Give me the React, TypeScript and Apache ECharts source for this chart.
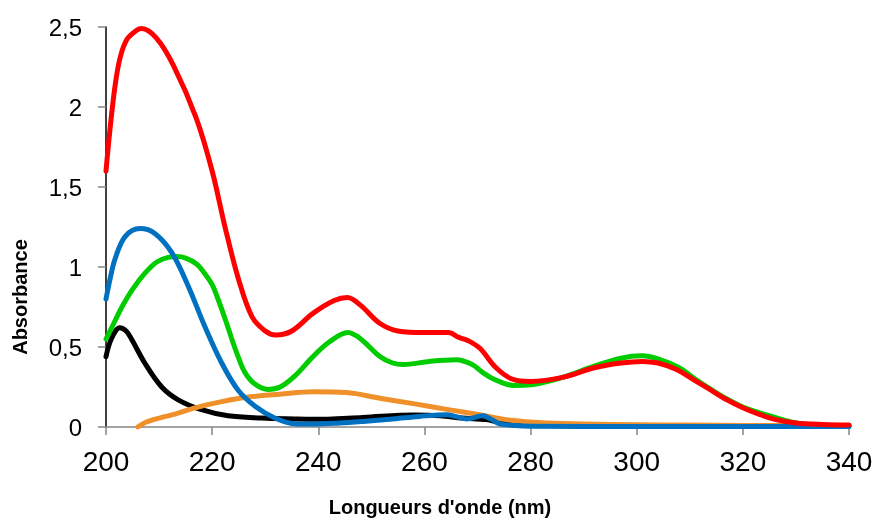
import React, { useEffect, useRef } from "react";
import * as echarts from "echarts";

const xTicks = [200, 220, 240, 260, 280, 300, 320, 340];
const yTicks = [0, 0.5, 1, 1.5, 2, 2.5];

const blackNm = [200, 201, 202.6, 203.8, 204.8, 207.3, 210.5, 213.6, 218, 223, 229.3, 235.6, 239, 248.4, 258, 263, 267, 271.7, 274, 277, 285, 340];
const blackAbs = [0.44, 0.55, 0.62, 0.6, 0.55, 0.4, 0.25, 0.17, 0.108, 0.07, 0.056, 0.05, 0.048, 0.06, 0.075, 0.07, 0.056, 0.046, 0.03, 0.018, 0.01, 0.008];

const orangeNm = [206, 207.5, 210.5, 213, 216.8, 222, 226.2, 232.8, 239, 245.3, 251.6, 257.9, 264.2, 270.4, 276.7, 283, 290, 300, 310, 320, 330, 340];
const orangeAbs = [0, 0.03, 0.06, 0.08, 0.12, 0.16, 0.185, 0.205, 0.22, 0.215, 0.18, 0.146, 0.11, 0.077, 0.04, 0.025, 0.018, 0.014, 0.012, 0.01, 0.008, 0.006];

const greenNm = [200, 201.5, 203, 205, 207.3, 209.5, 211.7, 213.5, 215, 217, 218.6, 220, 221.1, 222.5, 223.7, 225, 226.2, 228, 230.5, 232.8, 235.6, 239, 242, 245.6, 248, 251.6, 254, 256, 261, 266, 269, 271, 273, 276.7, 280, 286, 292, 297, 301, 304, 308, 311, 314, 317, 320, 323, 326, 329, 332, 336, 340];
const greenAbs = [0.55, 0.65, 0.75, 0.86, 0.96, 1.03, 1.06, 1.065, 1.055, 1.02, 0.96, 0.89, 0.8, 0.67, 0.55, 0.43, 0.34, 0.27, 0.235, 0.25, 0.32, 0.44, 0.53, 0.59, 0.55, 0.44, 0.4, 0.39, 0.41, 0.42, 0.39, 0.34, 0.3, 0.26, 0.264, 0.31, 0.38, 0.43, 0.445, 0.425, 0.37, 0.3, 0.235, 0.175, 0.125, 0.09, 0.06, 0.032, 0.015, 0.006, 0.004];

const blueNm = [200, 200.8, 201.7, 203.6, 206.4, 209.2, 212.4, 215.5, 218.6, 221.8, 224.9, 228.1, 231.8, 235.6, 239, 244, 248.4, 254, 259, 264.2, 266, 268, 271, 272.5, 274.2, 277, 280, 300, 340];
const blueAbs = [0.8, 0.93, 1.05, 1.19, 1.24, 1.21, 1.09, 0.88, 0.63, 0.4, 0.23, 0.13, 0.056, 0.02, 0.018, 0.025, 0.035, 0.05, 0.066, 0.077, 0.065, 0.05, 0.07, 0.05, 0.02, 0.01, 0.005, 0.003, 0.003];

const redNm = [200, 200.75, 201.7, 202.6, 203.9, 205.8, 206.7, 209.5, 212.7, 217, 220, 222.5, 225, 227.5, 230, 232, 235, 239, 243, 245.5, 248, 251.5, 255, 260, 264.5, 266.5, 268.5, 270.5, 273.5, 276.5, 280, 286, 292, 297, 301, 304, 307.5, 311, 314, 317, 320, 323, 326, 330, 335, 340];
const redAbs = [1.6, 1.86, 2.13, 2.3, 2.42, 2.48, 2.49, 2.43, 2.26, 1.93, 1.6, 1.24, 0.92, 0.69, 0.6, 0.575, 0.6, 0.71, 0.79, 0.81, 0.76, 0.65, 0.6, 0.59, 0.59, 0.56, 0.535, 0.49, 0.37, 0.3, 0.285, 0.31, 0.37, 0.4, 0.41, 0.4, 0.36, 0.29, 0.23, 0.17, 0.12, 0.08, 0.048, 0.025, 0.016, 0.013];

const xTitle = "Longueurs d'onde (nm)";
const yTitle = "Absorbance";

const pairs = (xs: number[], ys: number[]) => xs.map((x, i) => [x, ys[i]]);

export default function App() {
  const ref = useRef<HTMLDivElement>(null);
  useEffect(() => {
    if (!ref.current) return;
    const chart = echarts.init(ref.current, undefined, { renderer: "svg" });
    const mk = (name: string, xs: number[], ys: number[], color: string) => ({
      name,
      type: "line",
      data: pairs(xs, ys),
      smooth: 0.35,
      showSymbol: false,
      symbol: "none",
      lineStyle: { color, width: 5, cap: "round", join: "round" },
      itemStyle: { color },
    });
    chart.setOption({
      animation: false,
      grid: { left: 106, right: 27, top: 27, bottom: 92, containLabel: false },
      xAxis: {
        type: "value",
        min: xTicks[0],
        max: xTicks[xTicks.length - 1],
        interval: 20,
        axisLine: { show: true, lineStyle: { color: "#868686", width: 1.5 } },
        axisTick: { show: true, inside: false, length: 8, lineStyle: { color: "#868686", width: 1.5 } },
        splitLine: { show: false },
        axisLabel: { fontFamily: "Liberation Sans, Arial, sans-serif", fontSize: 28, color: "#000", margin: 20 },
      },
      yAxis: {
        type: "value",
        min: yTicks[0],
        max: yTicks[yTicks.length - 1],
        interval: 0.5,
        axisLine: { show: true, lineStyle: { color: "#000", width: 1.5 } },
        axisTick: { show: true, inside: false, length: 8, lineStyle: { color: "#868686", width: 1.5 } },
        splitLine: { show: false },
        axisLabel: {
          fontFamily: "Liberation Sans, Arial, sans-serif",
          fontSize: 24,
          color: "#000",
          margin: 24,
          formatter: (v: number) => String(v).replace(".", ","),
        },
      },
      graphic: [
        {
          type: "text",
          x: 20,
          y: 297,
          rotation: Math.PI / 2,
          style: {
            text: yTitle,
            fill: "#000",
            font: "bold 20px 'Liberation Sans', Arial, sans-serif",
            align: "center",
            verticalAlign: "middle",
          },
        },
        {
          type: "text",
          x: 440,
          y: 507,
          style: {
            text: xTitle,
            fill: "#000",
            font: "bold 20px 'Liberation Sans', Arial, sans-serif",
            align: "center",
            verticalAlign: "middle",
          },
        },
      ],
      series: [
        mk("noir", blackNm, blackAbs, "#000000"),
        mk("orange", orangeNm, orangeAbs, "#F0902A"),
        mk("vert", greenNm, greenAbs, "#00CC00"),
        mk("bleu", blueNm, blueAbs, "#0070C0"),
        mk("rouge", redNm, redAbs, "#FF0000"),
      ],
    });
    return () => chart.dispose();
  }, []);
  return <div ref={ref} style={{ position: "fixed", left: 0, top: 0, width: 876, height: 519 }} />;
}
